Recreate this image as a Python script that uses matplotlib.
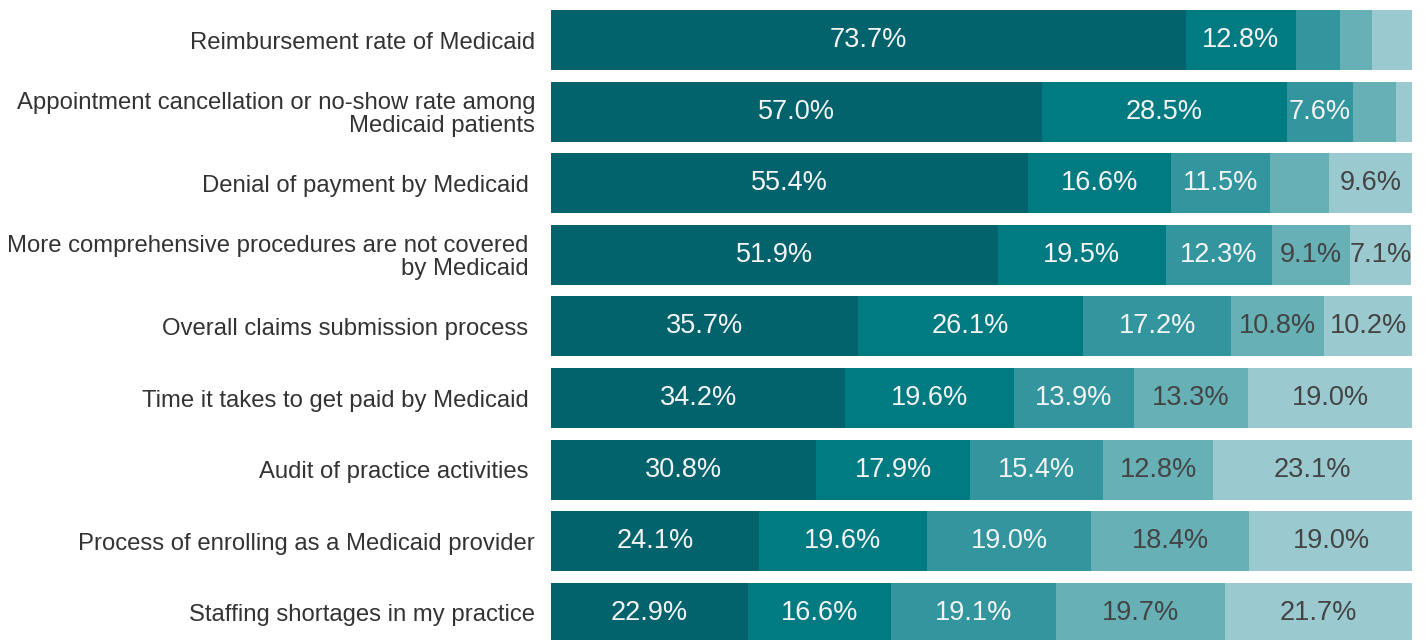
import matplotlib
matplotlib.use("Agg")
import matplotlib.pyplot as plt
import numpy as np

plt.rcParams['font.family'] = ['Liberation Sans', 'DejaVu Sans']

categories = [
    "Reimbursement rate of Medicaid",
    "Appointment cancellation or no-show rate among\nMedicaid patients",
    "Denial of payment by Medicaid ",
    "More comprehensive procedures are not covered \nby Medicaid ",
    "Overall claims submission process ",
    "Time it takes to get paid by Medicaid ",
    "Audit of practice activities ",
    "Process of enrolling as a Medicaid provider",
    "Staffing shortages in my practice",
]
seg1 = [73.7, 57.0, 55.4, 51.9, 35.7, 34.2, 30.8, 24.1, 22.9]
seg2 = [12.8, 28.5, 16.6, 19.5, 26.1, 19.6, 17.9, 19.6, 16.6]
seg3 = [5.1, 7.6, 11.5, 12.3, 17.2, 13.9, 15.4, 19.0, 19.1]
seg4 = [3.8, 5.0, 6.9, 9.1, 10.8, 13.3, 12.8, 18.4, 19.7]
seg5 = [4.6, 1.9, 9.6, 7.1, 10.2, 19.0, 23.1, 19.0, 21.7]

series = [seg1, seg2, seg3, seg4, seg5]
colors = ["#02636D", "#007B82", "#33959E", "#66B0B6", "#9ACACF"]
text_colors = ["#F4F4F4", "#F4F4F4", "#F4F4F4", "#444444", "#444444"]

fig = plt.figure(figsize=(14.26, 6.4), dpi=100)
ax = fig.add_axes([551/1426, 0, (1412-551)/1426, 1])

y = np.arange(len(categories))
left = np.zeros(len(categories))
for vals, col, tcol in zip(series, colors, text_colors):
    vals = np.array(vals)
    ax.barh(y, vals, left=left, height=0.838, color=col, edgecolor='none')
    for yi, (l, v) in enumerate(zip(left, vals)):
        if v >= 7.0:
            ax.text(l + v / 2, yi, f"{v:.1f}%", ha='center', va='center',
                    fontsize=19.5, color=tcol)
    left = left + vals

ax.set_xlim(0, 100)
ax.set_ylim(8.38, -0.559)
ax.set_yticks(y)
ax.set_yticklabels(categories, fontsize=17.2, color="#333333", linespacing=1.05)
ax.tick_params(axis='y', length=0, pad=11.5)
ax.set_xticks([])
for s in ax.spines.values():
    s.set_visible(False)

fig.savefig("out.png", dpi=100)
